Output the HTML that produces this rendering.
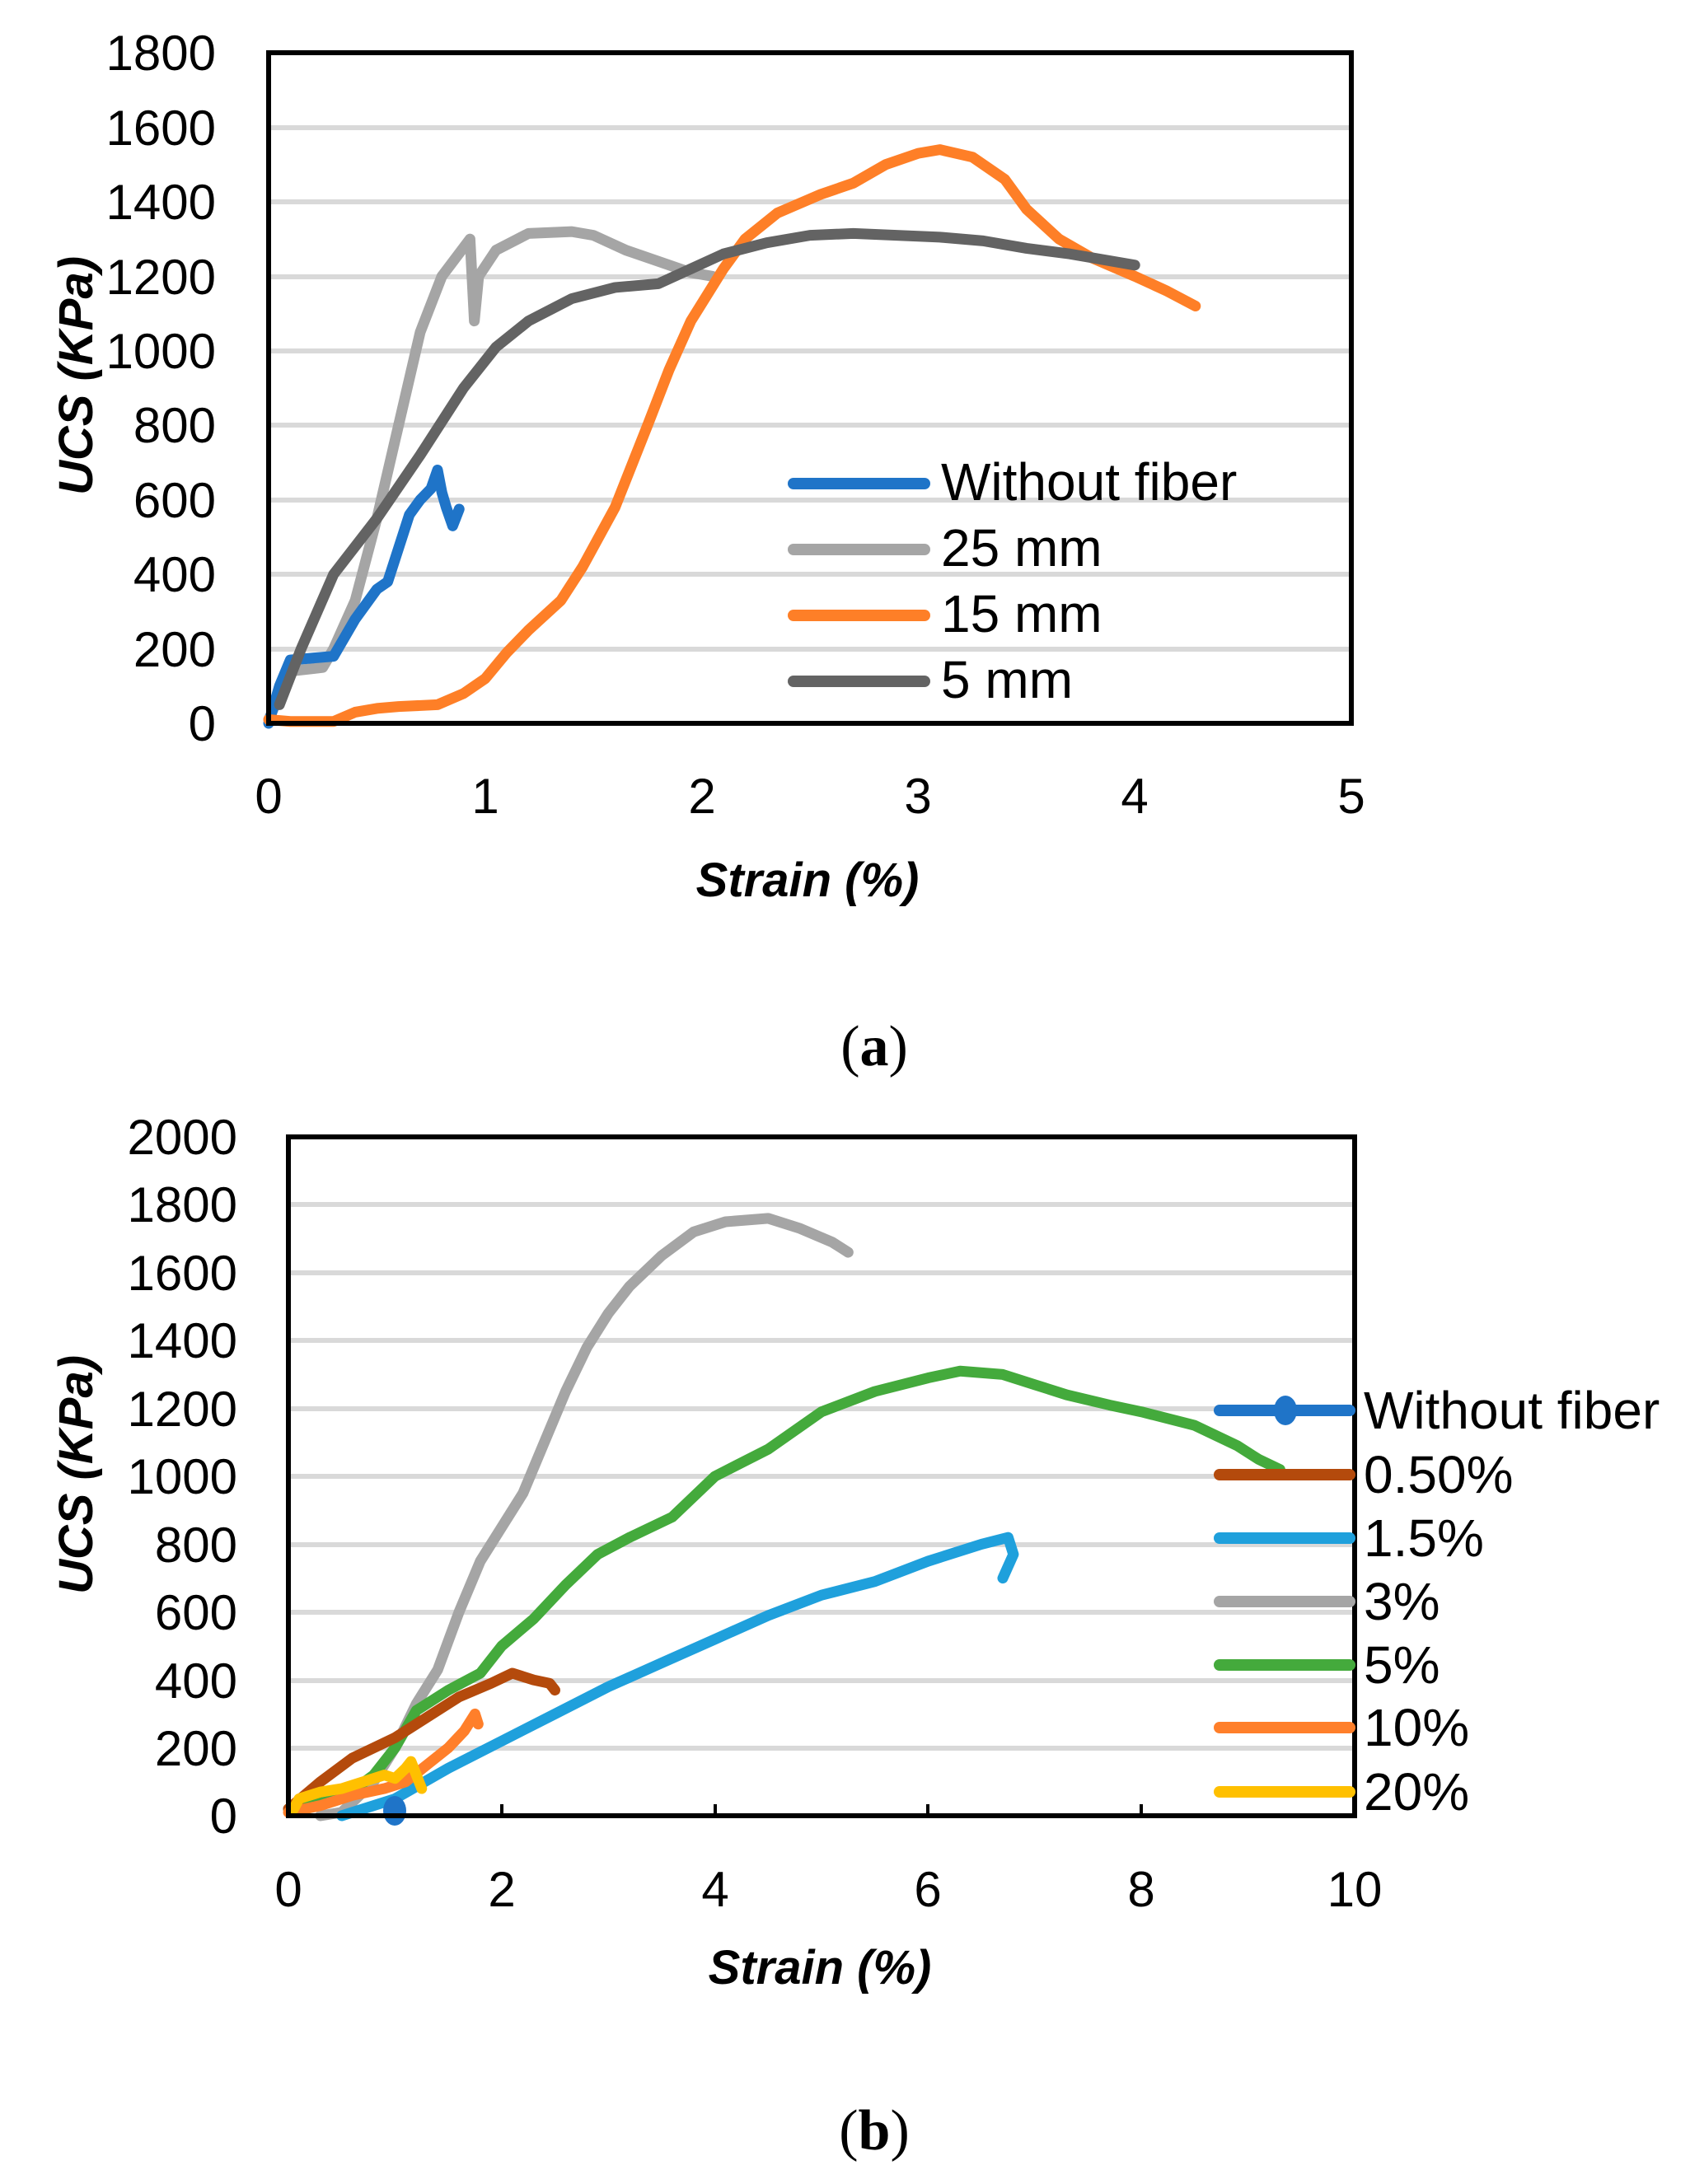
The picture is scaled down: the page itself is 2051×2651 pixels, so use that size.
<!DOCTYPE html>
<html><head><meta charset="utf-8"><style>
body{margin:0;background:#fff;}
svg{display:block;}
text{font-family:"Liberation Sans",sans-serif;fill:#000;}
</style></head><body>
<svg width="2051" height="2651" viewBox="0 0 2051 2651" xmlns="http://www.w3.org/2000/svg">
<rect width="2051" height="2651" fill="#fff"/>
<!-- ===== Chart (a) ===== -->
<g stroke="#d9d9d9" stroke-width="6">
<line x1="329" x2="1637" y1="788" y2="788"/><line x1="329" x2="1637" y1="697" y2="697"/>
<line x1="329" x2="1637" y1="607" y2="607"/><line x1="329" x2="1637" y1="516" y2="516"/>
<line x1="329" x2="1637" y1="426" y2="426"/><line x1="329" x2="1637" y1="336" y2="336"/>
<line x1="329" x2="1637" y1="245" y2="245"/><line x1="329" x2="1637" y1="155" y2="155"/>
</g>
<g font-size="60" text-anchor="end">
<text x="262" y="899">0</text><text x="262" y="809">200</text><text x="262" y="718">400</text>
<text x="262" y="628">600</text><text x="262" y="537">800</text><text x="262" y="447">1000</text>
<text x="262" y="357">1200</text><text x="262" y="266">1400</text><text x="262" y="176">1600</text>
<text x="262" y="85">1800</text>
</g>
<g font-size="60" text-anchor="middle">
<text x="326" y="987">0</text><text x="589" y="987">1</text><text x="852" y="987">2</text>
<text x="1114" y="987">3</text><text x="1377" y="987">4</text><text x="1640" y="987">5</text>
</g>
<text x="980" y="1088" font-size="58" font-weight="bold" font-style="italic" text-anchor="middle">Strain (%)</text>
<text transform="translate(112,456) rotate(-90)" font-size="58" font-weight="bold" font-style="italic" text-anchor="middle">UCS (KPa)</text>
<g transform="translate(326,878) scale(262.8,-0.4522)" fill="none" stroke-linejoin="round" stroke-linecap="round">
<polyline vector-effect="non-scaling-stroke" stroke="#a5a5a5" stroke-width="13" points="0,10 0.1,140 0.25,150 0.3,200 0.4,330 0.5,550 0.6,800 0.7,1050 0.8,1200 0.93,1300 0.95,1080 0.97,1200 1.05,1270 1.2,1315 1.4,1320 1.5,1310 1.65,1270 1.8,1240 1.95,1210 2.05,1200"/>
<polyline vector-effect="non-scaling-stroke" stroke="#1f74c8" stroke-width="13" points="0,0 0.05,100 0.1,170 0.2,175 0.3,180 0.4,280 0.5,360 0.55,380 0.6,470 0.65,560 0.7,600 0.75,630 0.78,680 0.8,620 0.82,580 0.85,530 0.88,575"/>
<polyline vector-effect="non-scaling-stroke" stroke="#fe7f27" stroke-width="13" points="0,10 0.1,5 0.3,5 0.4,30 0.5,40 0.6,45 0.78,50 0.9,80 1.0,120 1.1,190 1.2,250 1.35,330 1.45,420 1.6,580 1.75,800 1.85,950 1.95,1080 2.1,1220 2.2,1300 2.35,1370 2.55,1420 2.7,1450 2.85,1500 3.0,1530 3.1,1540 3.25,1520 3.4,1460 3.5,1380 3.65,1300 3.8,1250 4.0,1200 4.15,1160 4.28,1120"/>
<polyline vector-effect="non-scaling-stroke" stroke="#636363" stroke-width="13" points="0.05,50 0.15,200 0.3,400 0.5,550 0.7,720 0.9,900 1.05,1010 1.2,1080 1.4,1140 1.6,1170 1.8,1180 1.95,1220 2.1,1260 2.3,1290 2.5,1310 2.7,1315 2.9,1310 3.1,1305 3.3,1295 3.5,1275 3.7,1260 3.85,1245 4.0,1230"/>
</g>
<rect x="326" y="64" width="1314" height="814" fill="none" stroke="#000" stroke-width="6"/>
<g stroke-width="14" stroke-linecap="round">
<line x1="963" x2="1122" y1="587" y2="587" stroke="#1f74c8"/>
<line x1="963" x2="1122" y1="667" y2="667" stroke="#a5a5a5"/>
<line x1="963" x2="1122" y1="747" y2="747" stroke="#fe7f27"/>
<line x1="963" x2="1122" y1="827" y2="827" stroke="#636363"/>
</g>
<g font-size="64">
<text x="1142" y="607">Without fiber</text><text x="1142" y="687">25 mm</text>
<text x="1142" y="767">15 mm</text><text x="1142" y="847">5 mm</text>
</g>
<text x="1061" y="1293" font-size="70" text-anchor="middle" style="font-family:'Liberation Serif',serif">(<tspan font-weight="bold">a</tspan>)</text>

<!-- ===== Chart (b) ===== -->
<g stroke="#d9d9d9" stroke-width="6">
<line x1="353" x2="1641" y1="2122" y2="2122"/><line x1="353" x2="1641" y1="2040" y2="2040"/>
<line x1="353" x2="1641" y1="1957" y2="1957"/><line x1="353" x2="1641" y1="1875" y2="1875"/>
<line x1="353" x2="1641" y1="1792" y2="1792"/><line x1="353" x2="1641" y1="1710" y2="1710"/>
<line x1="353" x2="1641" y1="1627" y2="1627"/><line x1="353" x2="1641" y1="1545" y2="1545"/>
<line x1="353" x2="1641" y1="1462" y2="1462"/>
</g>
<g stroke="#000" stroke-width="4">
<line x1="609" x2="609" y1="2204" y2="2190"/><line x1="868" x2="868" y1="2204" y2="2190"/>
<line x1="1126" x2="1126" y1="2204" y2="2190"/><line x1="1385" x2="1385" y1="2204" y2="2190"/>
</g>
<g font-size="60" text-anchor="end">
<text x="288" y="2225">0</text><text x="288" y="2143">200</text><text x="288" y="2061">400</text>
<text x="288" y="1978">600</text><text x="288" y="1896">800</text><text x="288" y="1813">1000</text>
<text x="288" y="1731">1200</text><text x="288" y="1648">1400</text><text x="288" y="1566">1600</text>
<text x="288" y="1483">1800</text><text x="288" y="1401">2000</text>
</g>
<g font-size="60" text-anchor="middle">
<text x="350" y="2314">0</text><text x="609" y="2314">2</text><text x="868" y="2314">4</text>
<text x="1126" y="2314">6</text><text x="1385" y="2314">8</text><text x="1644" y="2314">10</text>
</g>
<text x="995" y="2408" font-size="58" font-weight="bold" font-style="italic" text-anchor="middle">Strain (%)</text>
<text transform="translate(112,1790) rotate(-90)" font-size="58" font-weight="bold" font-style="italic" text-anchor="middle">UCS (KPa)</text>
<g transform="translate(350,2204) scale(129.4,-0.412)" fill="none" stroke-linejoin="round" stroke-linecap="round">
<polyline vector-effect="non-scaling-stroke" stroke="#a5a5a5" stroke-width="13" points="0.3,0 0.5,10 0.8,100 1.0,200 1.2,330 1.4,430 1.6,600 1.8,750 2.0,850 2.2,950 2.4,1100 2.6,1250 2.8,1380 3.0,1480 3.2,1560 3.5,1650 3.8,1720 4.1,1750 4.5,1760 4.8,1730 5.1,1690 5.25,1660"/>
<polyline vector-effect="non-scaling-stroke" stroke="#44aa3c" stroke-width="13" points="0,20 0.5,50 0.8,120 1.0,200 1.2,310 1.5,370 1.8,420 2.0,500 2.3,580 2.6,680 2.9,770 3.2,820 3.6,880 4.0,1000 4.5,1080 5.0,1190 5.5,1250 6.0,1290 6.3,1310 6.7,1300 7.0,1270 7.3,1240 7.7,1210 8.0,1190 8.5,1150 8.9,1090 9.1,1050 9.3,1020"/>
<polyline vector-effect="non-scaling-stroke" stroke="#1fa0dc" stroke-width="13" points="0.5,0 1.0,50 1.5,140 2.0,220 2.5,300 3.0,380 3.5,450 4.0,520 4.5,590 5.0,650 5.5,690 6.0,750 6.5,800 6.75,820 6.8,770 6.7,700"/>
<polyline vector-effect="non-scaling-stroke" stroke="#b44a0c" stroke-width="13" points="0,20 0.3,100 0.6,170 1.0,230 1.3,290 1.6,350 1.9,390 2.1,420 2.3,400 2.45,390 2.5,370"/>
<polyline vector-effect="non-scaling-stroke" stroke="#ff7f2a" stroke-width="13" points="0,10 0.3,30 0.6,60 0.9,80 1.1,100 1.3,150 1.5,200 1.65,250 1.75,300 1.78,270"/>
<polyline vector-effect="non-scaling-stroke" stroke="#ffc000" stroke-width="13" points="0.05,20 0.1,50 0.3,70 0.5,80 0.7,100 0.9,120 1.0,110 1.1,140 1.15,160 1.2,120 1.25,80"/>
</g>
<ellipse cx="479" cy="2198" rx="14" ry="18" fill="#1f74c8"/>
<rect x="350" y="1380" width="1294" height="824" fill="none" stroke="#000" stroke-width="6"/>
<g stroke-width="14" stroke-linecap="round">
<line x1="1480" x2="1638" y1="1712" y2="1712" stroke="#1f74c8"/>
<line x1="1480" x2="1638" y1="1790" y2="1790" stroke="#b44a0c"/>
<line x1="1480" x2="1638" y1="1867" y2="1867" stroke="#1fa0dc"/>
<line x1="1480" x2="1638" y1="1944" y2="1944" stroke="#a5a5a5"/>
<line x1="1480" x2="1638" y1="2021" y2="2021" stroke="#44aa3c"/>
<line x1="1480" x2="1638" y1="2097" y2="2097" stroke="#ff7f2a"/>
<line x1="1480" x2="1638" y1="2175" y2="2175" stroke="#ffc000"/>
</g>
<ellipse cx="1560" cy="1712" rx="14" ry="18" fill="#1f74c8"/>
<g font-size="64">
<text x="1655" y="1734">Without fiber</text><text x="1655" y="1812">0.50%</text>
<text x="1655" y="1889">1.5%</text><text x="1655" y="1966">3%</text>
<text x="1655" y="2043">5%</text><text x="1655" y="2119">10%</text>
<text x="1655" y="2197">20%</text>
</g>
<text x="1061" y="2609" font-size="70" text-anchor="middle" style="font-family:'Liberation Serif',serif">(<tspan font-weight="bold">b</tspan>)</text>
</svg>
</body></html>
